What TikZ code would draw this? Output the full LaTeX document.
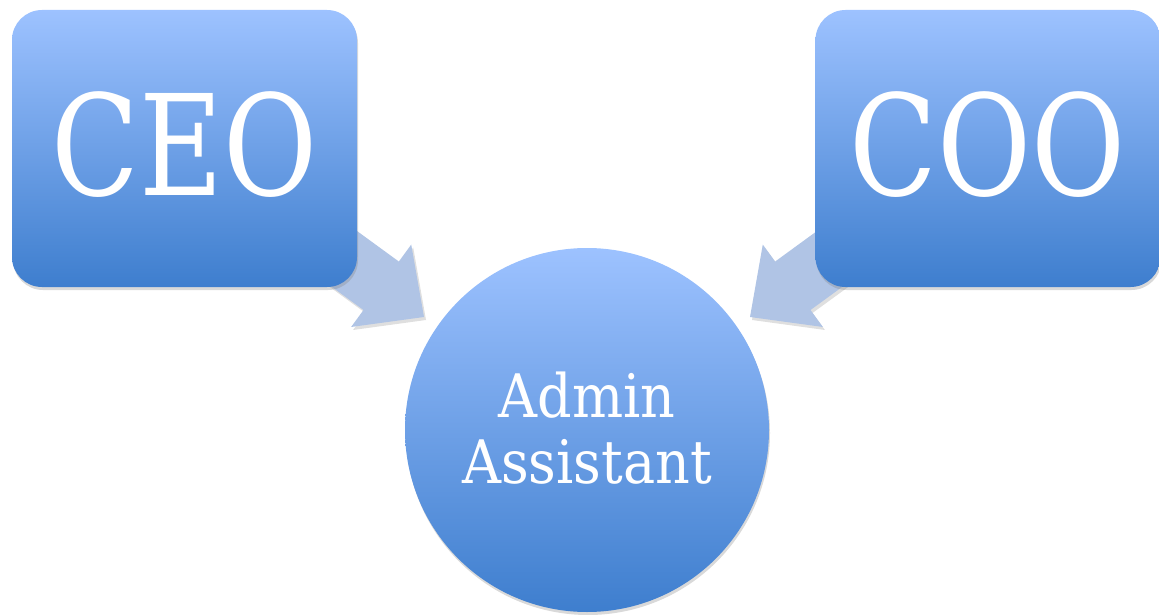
\documentclass[tikz,border=0pt]{standalone}
\usepackage{fontspec}
\setmainfont{DejaVu Serif}
\usetikzlibrary{shadows,calc}
\definecolor{boxtop}{RGB}{157,194,255}
\definecolor{boxbot}{RGB}{62,126,206}
\definecolor{arrowfill}{RGB}{176,196,229}
\tikzset{
  rolebox/.style={rounded corners=30pt, top color=boxtop, bottom color=boxbot,
    draw=none, minimum width=345pt, minimum height=277pt, inner sep=0pt,
    drop shadow={opacity=0.3, shadow xshift=1pt, shadow yshift=-3pt}, text=white},
  rolecircle/.style={circle, top color=boxtop, bottom color=boxbot, draw=none,
    minimum size=364pt, inner sep=0pt, text=white, align=center,
    drop shadow={opacity=0.3, shadow xshift=1pt, shadow yshift=-3pt}},
  blockarrow/.style={fill=arrowfill, draw=none,
    drop shadow={opacity=0.25, shadow xshift=2pt, shadow yshift=-3pt}},
  bigtext/.style={font=\fontsize{140}{140}\selectfont},
  smalltext/.style={font=\fontsize{60}{66}\selectfont}
}
\begin{document}
\begin{tikzpicture}[x=1pt,y=-1pt]
\useasboundingbox (0,0) rectangle (1159,615);
% arrows (drawn first, boxes cover tails)
\coordinate (tipL) at (424,317);
\coordinate (tipR) at (750,317);
\begin{scope}[shift={(tipL)}, rotate=-36.1]
  \path[blockarrow] (0,0) -- (-53,-51) -- (-53,-30) -- (-175,-30) -- (-175,30) -- (-53,30) -- (-53,51) -- cycle;
\end{scope}
\begin{scope}[shift={(tipR)}, rotate=36.1]
  \path[blockarrow] (0,0) -- (53,-51) -- (53,-30) -- (175,-30) -- (175,30) -- (53,30) -- (53,51) -- cycle;
\end{scope}
\node[rolebox] (ceo) at (184.5,148.5) {};
\node[rolebox] (coo) at (988,148.5) {};
\node[rolecircle] (aa) at (587,430) {};
\node[bigtext, text=white] at ($(ceo.center)+(0,-4)$) {\scalebox{0.82}[1]{CEO}};
\node[bigtext, text=white] at ($(coo.center)+(0,-4)$) {\scalebox{0.82}[1]{COO}};
\node[smalltext, text=white, align=center] at ($(aa.center)+(0,-2)$) {\scalebox{0.9}[1]{Admin}\\\scalebox{0.9}[1]{Assistant}};
\end{tikzpicture}
\end{document}
